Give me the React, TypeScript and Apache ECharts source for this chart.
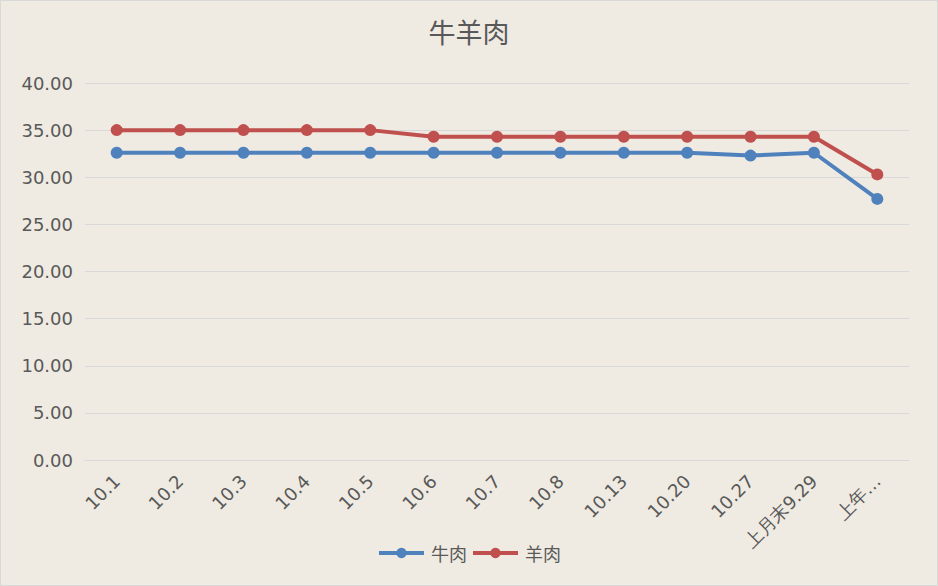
import React, { useEffect, useRef } from "react";
import * as echarts from "echarts";

const categories = ["10.1", "10.2", "10.3", "10.4", "10.5", "10.6", "10.7", "10.8", "10.13", "10.20", "10.27", "上月末9.29", "上年同期"];
const beef = [32.6, 32.6, 32.6, 32.6, 32.6, 32.6, 32.6, 32.6, 32.6, 32.6, 32.3, 32.6, 27.7];
const mutton = [35.0, 35.0, 35.0, 35.0, 35.0, 34.3, 34.3, 34.3, 34.3, 34.3, 34.3, 34.3, 30.3];
const yTicks = { min: 0, max: 40, interval: 5 };

export default function App() {
  const ref = useRef<HTMLDivElement>(null);
  useEffect(() => {
    const chart = echarts.init(ref.current!, null, { renderer: "svg" });
    const font = "DejaVu Sans";
    chart.setOption({
      animation: false,
      backgroundColor: "#EFEBE2",
      title: {
        text: "牛羊肉",
        left: "center",
        top: 12,
        textStyle: { fontFamily: "Noto Sans CJK SC", fontSize: 27, fontWeight: "normal", color: "#595959" },
      },
      legend: {
        bottom: 18,
        left: "center",
        itemWidth: 45,
        itemHeight: 13,
        itemGap: 4,
        lineStyle: { width: 4 },
        textStyle: { fontFamily: "Noto Sans CJK SC", fontSize: 18, color: "#595959", padding: [0, 0, 0, 2] },
        data: ["牛肉", "羊肉"],
      },
      grid: { left: 84, right: 28, top: 82, bottom: 125, containLabel: false },
      xAxis: {
        type: "category",
        data: categories,
        boundaryGap: true,
        axisLine: { lineStyle: { color: "#D9D9D9", width: 1 } },
        axisTick: { show: false },
        axisLabel: {
          interval: 0,
          rotate: 45,
          margin: 18,
          fontFamily: font,
          fontSize: 18,
          color: "#595959",
          formatter: (v: string) => (v.startsWith("上年") ? v.slice(0, 2) + "…" : v),
        },
      },
      yAxis: {
        type: "value",
        min: yTicks.min,
        max: yTicks.max,
        interval: yTicks.interval,
        axisLine: { show: false },
        axisTick: { show: false },
        splitLine: { lineStyle: { color: "#D9D9D9", width: 1 } },
        axisLabel: {
          margin: 12,
          fontFamily: font,
          fontSize: 18,
          color: "#595959",
          formatter: (v: number) => v.toFixed(2),
        },
      },
      series: [
        {
          name: "牛肉",
          type: "line",
          data: beef,
          symbol: "circle",
          symbolSize: 12,
          lineStyle: { width: 4, color: "#4F81BD" },
          itemStyle: { color: "#4F81BD" },
        },
        {
          name: "羊肉",
          type: "line",
          data: mutton,
          symbol: "circle",
          symbolSize: 12,
          lineStyle: { width: 4, color: "#C0504D" },
          itemStyle: { color: "#C0504D" },
        },
      ],
    });
    return () => chart.dispose();
  }, []);
  return (
    <div
      ref={ref}
      style={{
        position: "fixed",
        left: 0,
        top: 0,
        width: 938,
        height: 586,
        boxSizing: "border-box",
        border: "1px solid #D9D9D9",
      }}
    />
  );
}
